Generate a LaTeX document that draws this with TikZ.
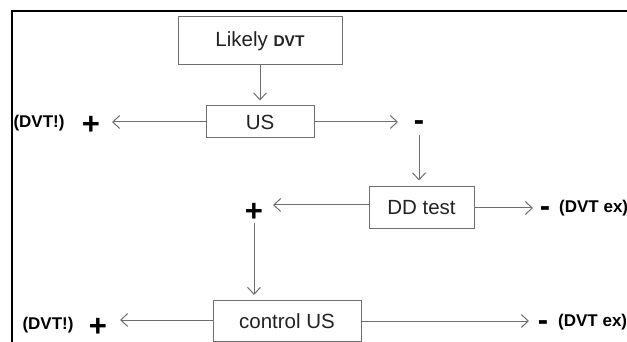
\documentclass[tikz,border=0pt]{standalone}
\usepackage{fontspec}
\setmainfont{Liberation Sans}
\usetikzlibrary{arrows.meta}
\definecolor{linegray}{HTML}{6E6E6E}
\definecolor{textgray}{HTML}{222222}
\tikzset{
  boxnode/.style={draw=linegray, line width=1pt, inner sep=0pt, text=textgray,
    font=\fontsize{20.5}{22}\selectfont},
  arr/.style={draw=linegray, line width=1pt, -{Straight Barb[length=7pt,width=13pt]}},
  sign/.style={inner sep=0pt, text=black, font=\fontsize{31}{33}\selectfont\bfseries},
  lbl/.style={inner sep=0pt, text=black, font=\fontsize{17}{19}\selectfont\bfseries},
}
\begin{document}
\begin{tikzpicture}[x=1pt,y=-1pt]
\useasboundingbox (0,0) rectangle (627,342);
\fill[white] (0,0) rectangle (627,342);
% frame
\draw[line width=1.5pt] (12,342) -- (12,11) -- (627,11);

% boxes
\node[boxnode, minimum width=164pt, minimum height=48pt] (lk) at (260,41)
  {Likely {\fontsize{15.5}{16}\selectfont\bfseries DVT}};
\node[boxnode, minimum width=108pt, minimum height=32pt] (us) at (260,122) {US};
\node[boxnode, minimum width=105pt, minimum height=41pt] (dd) at (421.5,207.5) {DD test};
\node[boxnode, minimum width=148pt, minimum height=41pt] (cu) at (287,321) {control US};

% signs and labels
\node[sign] (p1) at (91,125) {+};
\node[lbl] (l1) at (39,123) {(DVT!)};
\node[sign] (m1) at (419,126) {-};
\node[sign] (p2) at (254,212) {+};
\node[sign] (m2) at (545,212) {-};
\node[lbl, anchor=west] (l2) at (559,208) {(DVT ex)};
\node[sign] (p3) at (98,327) {+};
\node[lbl] (l3) at (48,325) {(DVT!)};
\node[sign] (m3) at (543,326) {-};
\node[lbl, anchor=west] (l4) at (558,322) {(DVT ex)};

% arrow tips
\coordinate (t1) at (112,122);
\coordinate (t2) at (398,122);
\coordinate (t3) at (273,205);
\coordinate (t4) at (533,208);
\coordinate (t5) at (120,320);
\coordinate (t6) at (529,321);

% connectors
\draw[arr, shorten >=5pt] (lk.south) -- (us.north);
\draw[arr] (us.west) -- (t1);
\draw[arr] (us.east) -- (t2);
\draw[arr, shorten <=9pt, shorten >=6pt] (m1.center) -- (m1.center |- dd.north);
\draw[arr] (dd.west |- t3) -- (t3);
\draw[arr] (dd.east |- t4) -- (t4);
\draw[arr, shorten <=11pt, shorten >=5pt] (p2.center) -- (p2.center |- cu.north);
\draw[arr] (cu.west |- t5) -- (t5);
\draw[arr] (cu.east |- t6) -- (t6);
\end{tikzpicture}
\end{document}
